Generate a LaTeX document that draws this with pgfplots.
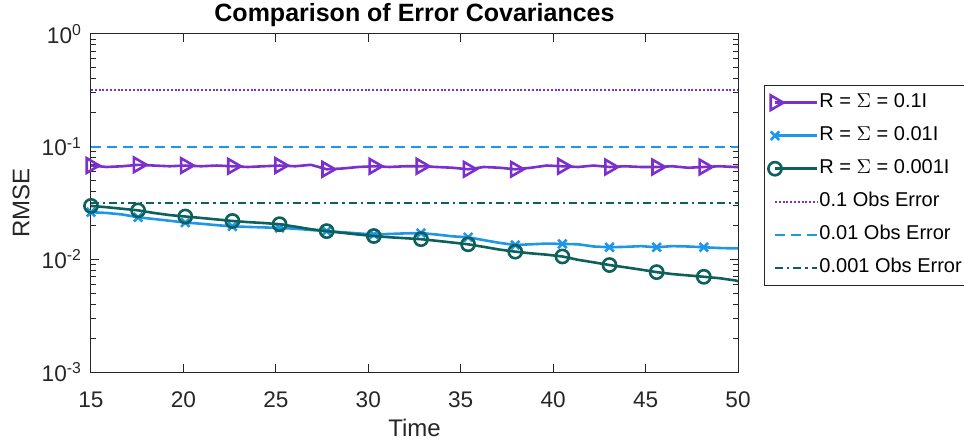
\documentclass[border=0pt]{standalone}
\usepackage{pgfplots}
\pgfplotsset{compat=1.18}
\usepackage{pgfplotstable}
\usepackage{fontspec}
\setmainfont{Liberation Sans}
\definecolor{cPurple}{HTML}{7B2FCD}
\definecolor{cBlue}{HTML}{1E96EA}
\definecolor{cTeal}{HTML}{0D615C}
\definecolor{axGray}{HTML}{262626}

% x, R=Sigma=0.1I, 0.01I, 0.001I
\pgfplotstableread{
x      p      b       t
15.00  0.068  0.0262  0.0298
15.85  0.066  0.0258  0.0290
16.70  0.067  0.0250  0.0281
17.55  0.069  0.0236  0.0272
18.40  0.068  0.0228  0.0258
19.25  0.067  0.0220  0.0247
20.10  0.068  0.0212  0.0240
20.95  0.067  0.0207  0.0233
21.80  0.068  0.0201  0.0226
22.65  0.067  0.0196  0.0219
23.50  0.066  0.0194  0.0214
24.35  0.067  0.0192  0.0210
25.20  0.068  0.0190  0.0205
26.05  0.067  0.0187  0.0195
26.90  0.069  0.0182  0.0185
27.75  0.063  0.0178  0.0178
28.60  0.064  0.0174  0.0172
29.45  0.066  0.0170  0.0166
30.30  0.067  0.0166  0.0161
31.15  0.066  0.0168  0.0157
32.00  0.067  0.0170  0.0154
32.85  0.067  0.0171  0.0151
33.70  0.066  0.0166  0.0146
34.55  0.065  0.0160  0.0141
35.40  0.063  0.0157  0.0136
36.25  0.066  0.0148  0.0129
37.10  0.065  0.0140  0.0122
37.95  0.063  0.0134  0.0117
38.80  0.065  0.0136  0.0113
39.65  0.068  0.0138  0.0110
40.50  0.067  0.0137  0.0106
41.35  0.066  0.0136  0.0099
42.20  0.068  0.0130  0.0094
43.05  0.066  0.0128  0.0089
43.90  0.067  0.0129  0.0085
44.75  0.066  0.0131  0.0081
45.60  0.066  0.0128  0.0077
46.45  0.067  0.0131  0.0074
47.30  0.065  0.0130  0.0072
48.15  0.066  0.0128  0.0070
49.00  0.067  0.0126  0.0068
49.85  0.066  0.0125  0.0065
50.00  0.066  0.0125  0.0064
}\rmse

\begin{document}
\begin{tikzpicture}
\useasboundingbox (-45.5pt,-36pt) rectangle (436.5pt,186pt);
\begin{axis}[
  scale only axis,
  width=323.5pt, height=169pt,
  at={(0,0)}, anchor=south west,
  ymode=log,
  xmin=15, xmax=50, ymin=1e-3, ymax=1,
  xtick={15,20,...,50},
  ytick={1e-3,1e-2,1e-1,1},
  yticklabels={10\textsuperscript{-3},10\textsuperscript{-2},10\textsuperscript{-1},10\textsuperscript{0}},
  /pgf/number format/assume math mode=true,
  axis line style={axGray, line width=0.5pt},
  every tick/.style={axGray, line width=0.5pt},
  major tick length=4pt, minor tick length=2.5pt,
  tick label style={font=\fontsize{11.3}{13}\selectfont, text=axGray},
  yticklabel style={xshift=-1pt},
  xticklabel style={yshift=-6.5pt},
  xlabel={Time}, ylabel={RMSE},
  label style={font=\fontsize{12}{14}\selectfont, text=axGray},
  xlabel style={at={(axis description cs:0.5,0)}, anchor=center, yshift=-28pt},
  ylabel style={at={(axis description cs:0,0.5)}, anchor=center, yshift=35pt},
  title={Comparison of Error Covariances},
  title style={font=\bfseries\fontsize{12.5}{14}\selectfont, at={(axis description cs:0.5,1)}, anchor=center, yshift=3.5pt},
  clip mode=individual,
  legend cell align=left,
  legend style={at={(axis description cs:1.040,0.850)}, anchor=north west,
    draw=axGray, line width=0.5pt, fill=white,
    font=\fontsize{10}{12}\selectfont,
    inner xsep=2pt, inner ysep=3.5pt, row sep=6pt,
    nodes={inner sep=0.6pt, text height=7.3pt, text depth=2pt}},
  legend image code/.code={\draw[mark repeat=2, mark phase=2]
    plot coordinates {(0pt,0pt) (10.5pt,0pt) (21pt,0pt)};},
]
\addplot[cPurple, line width=1.3pt, mark=triangle, mark size=4.2pt,
  mark options={rotate=-90, solid, fill=none},
  mark indices={1,4,7,10,13,16,19,22,25,28,31,34,37,40}]
  table[x=x, y=p] {\rmse};
\addplot[cBlue, line width=1.3pt, mark=x, mark size=3pt,
  mark options={solid},
  mark indices={1,4,7,10,13,16,19,22,25,28,31,34,37,40}]
  table[x=x, y=b] {\rmse};
\addplot[cTeal, line width=1.3pt, mark=o, mark size=3.3pt,
  mark options={solid},
  mark indices={1,4,7,10,13,16,19,22,25,28,31,34,37,40}]
  table[x=x, y=t] {\rmse};
\addplot[cPurple, line width=1pt, dash pattern=on 1pt off 0.9pt] coordinates {(15,0.3162) (50,0.3162)};
\addplot[cBlue, line width=1pt, dash pattern=on 5pt off 3pt] coordinates {(15,0.1) (50,0.1)};
\addplot[cTeal, line width=1.1pt, dash pattern=on 4pt off 2pt on 1.2pt off 2pt] coordinates {(15,0.03162) (50,0.03162)};
\legend{R = $\Sigma$ = 0.1I, R = $\Sigma$ = 0.01I, R = $\Sigma$ = 0.001I,
  0.1 Obs Error, 0.01 Obs Error, 0.001 Obs Error}
\end{axis}
\end{tikzpicture}
\end{document}
